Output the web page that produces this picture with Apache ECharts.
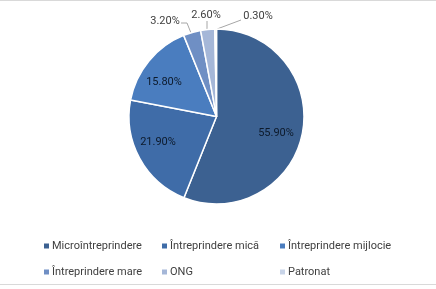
<!DOCTYPE html>
<html><head><meta charset="utf-8">
<script src="https://cdn.jsdelivr.net/npm/echarts@6/dist/echarts.min.js"></script>
<style>html,body{margin:0;padding:0;background:#fff}#c{width:436px;height:289px}</style>
</head><body><div id="c"></div>
<script>
const categories = ["Microîntreprindere","Întreprindere mică","Întreprindere mijlocie","Întreprindere mare","ONG","Patronat"];
const values = [55.9, 21.9, 15.8, 3.2, 2.6, 0.3];
const valueLabels = ["55.90%","21.90%","15.80%","3.20%","2.60%","0.30%"];

const colors = ["#3c6191","#3f6ca8","#4a7dbf","#6f8fc4","#a5b7d8","#c8d4e8"];
const labelPos = [
  {x:276,y:133,inside:true},
  {x:158,y:142,inside:true},
  {x:164,y:82,inside:true},
  {x:165,y:21,line:[[181,23],[187,23],[191,33]]},
  {x:206,y:15,line:[[207,21],[207,21],[207,30]]},
  {x:258,y:16,line:[[241,20],[241,20],[217,29]]}
];
const chart = echarts.init(document.getElementById('c'), null, {renderer:'canvas'});
chart.setOption({
  animation:false,
  color: colors,
  graphic:[
    {type:'line',shape:{x1:0,y1:0.5,x2:436,y2:0.5},style:{stroke:'#d9d9d9',lineWidth:1}},
    {type:'line',shape:{x1:0,y1:284.5,x2:436,y2:284.5},style:{stroke:'#d9d9d9',lineWidth:1}}
  ],
  legend:{
    left:37, top:228, width:380, orient:'horizontal',
    itemWidth:7, itemHeight:7, itemGap:0, icon:'rect',
    textStyle:{fontFamily:'Roboto', fontSize:11, color:'#404040', width:108, height:26, lineHeight:26, padding:[0,0,0,-3]},
    data: categories
  },
  series:[{
    type:'pie',
    center:[216.5,116.5],
    radius:87.5,
    startAngle:90,
    clockwise:true,
    avoidLabelOverlap:false,
    itemStyle:{borderColor:'#ffffff',borderWidth:1.5},
    label:{show:true, position:'outside', formatter:p=>valueLabels[p.dataIndex],
      fontFamily:'Roboto', fontSize:11, color:'#404040'},
    labelLine:{show:true, lineStyle:{color:'#a6a6a6',width:1}},
    labelLayout:function(p){
      const lp = labelPos[p.dataIndex];
      const o = {x:lp.x, y:lp.y, align:'center', verticalAlign:'middle'};
      if (lp.line) o.labelLinePoints = lp.line;
      return o;
    },
    data: categories.map((n,i)=>{
      const d = {name:n, value:values[i]};
      if (labelPos[i].inside) { d.label = {color:'#0d1a2b'}; d.labelLine = {show:false}; }
      return d;
    })
  }]
});
</script></body></html>
